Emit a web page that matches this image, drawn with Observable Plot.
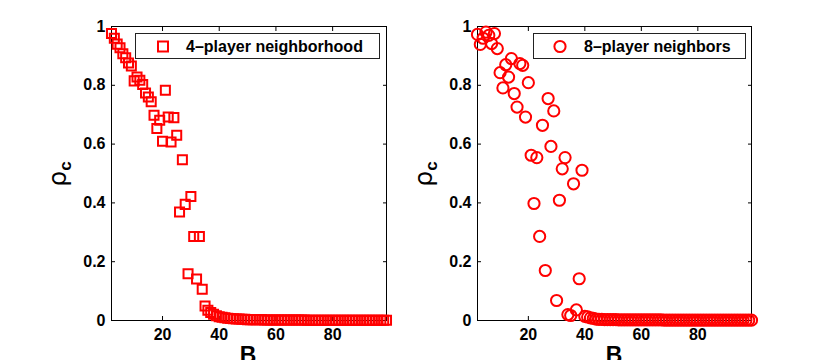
<!DOCTYPE html>
<html><head><meta charset="utf-8">
<script src="https://cdn.jsdelivr.net/npm/d3@7"></script>
<script src="https://cdn.jsdelivr.net/npm/@observablehq/plot@0.6"></script>
<style>
body{margin:0;background:#fff;}
#wrap{position:relative;width:830px;height:360px;overflow:hidden;font-family:"Liberation Sans",Arial,sans-serif;}
.panel{position:absolute;top:0;}
.legend{position:absolute;background:#fff;border:1px solid #222;box-sizing:border-box;font-weight:bold;font-size:16px;height:26px;white-space:nowrap;}
.legend svg{position:absolute;top:0;left:0;}
.legend span{position:absolute;left:50px;top:3px;line-height:20px;color:#000;}
.ylab{position:absolute;transform:translate(-50%,-50%) rotate(-90deg);white-space:nowrap;color:#000;line-height:1;}
.ylab .rho{font-family:"DejaVu Sans","Liberation Sans",sans-serif;font-size:25px;font-weight:normal;}
.ylab sub{font-size:17px;font-weight:bold;vertical-align:-5px;}
.xlab{position:absolute;transform:translateX(-50%);font-weight:bold;font-size:23px;color:#000;line-height:1;}
</style></head><body><div id="wrap"></div>
<script>
// ---- data ----
const B4 = [2,3,4,5,6,7,8,9,10,11,12,13,14,15,16,17,18,19,20,21,22,23,24,25,26,27,28,29,30,31,32,33,34,35,36,37,38,39,40,41,42,43,44,45,46,47,48,49,50,51,52,53,54,55,56,57,58,59,60,61,62,63,64,65,66,67,68,69,70,71,72,73,74,75,76,77,78,79,80,81,82,83,84,85,86,87,88,89,90,91,92,93,94,95,96,97,98,99];
const rho4 = [0.976,0.960,0.940,0.928,0.907,0.894,0.876,0.866,0.815,0.828,0.817,0.803,0.774,0.760,0.744,0.698,0.653,0.681,0.610,0.783,0.692,0.607,0.690,0.630,0.369,0.547,0.395,0.159,0.422,0.286,0.141,0.286,0.106,0.049,
  0.035,0.027,0.021,0.016,0.013,0.011,0.009,0.008,0.007,0.006,0.005,0.005,0.004,0.004,0.003,0.003,0.003,0.003,0.003,0.003,0.002,0.002,0.002,0.002,0.002,0.002,0.002,0.002,0.002,0.002,
  0.002,0.002,0.002,0.002,0.002,0.001,0.001,0.001,0.001,0.001,0.001,0.001,0.001,0.001,0.001,0.001,0.001,0.001,0.001,0.001,0.001,0.001,0.001,0.001,0.001,0.001,0.001,0.001,0.001,0.001,0.001,0.001,0.001,0.001];
const B8 = [2,3,4,5,6,7,8,9,10,11,12,13,14,15,16,17,18,19,20,21,22,23,24,25,26,27,28,29,30,31,32,33,34,35,36,37,38,39,40,41,42,43,44,45,46,47,48,49,50,51,52,53,54,55,56,57,58,59,60,61,62,63,64,65,66,67,68,69,70,71,72,73,74,75,76,77,78,79,80,81,82,83,84,85,86,87,88,89,90,91,92,93,94,95,96,97,98,99];
const rho8 = [0.973,0.939,0.960,0.981,0.970,0.942,0.976,0.925,0.843,0.791,0.870,0.828,0.891,0.772,0.726,0.874,0.868,0.692,0.809,0.562,0.398,0.554,0.286,0.664,0.170,0.755,0.592,0.713,0.068,0.409,0.516,0.554,0.020,0.017,0.465,0.036,0.142,0.511,0.014,
  0.012,0.009,0.007,0.005,0.004,0.004,0.003,0.003,0.003,0.003,0.003,0.002,0.002,0.002,0.002,0.002,0.002,0.002,0.002,0.002,0.002,0.002,0.002,0.002,0.002,
  0.002,0.002,0.001,0.001,0.001,0.001,0.001,0.001,0.001,0.001,0.001,0.001,0.001,0.001,0.001,0.001,0.001,0.001,0.001,0.001,0.001,0.001,0.001,0.001,0.001,0.001,0.001,0.001,0.001,0.001,0.001,0.001,0.001,0.001];
const xTicks = [20,40,60,80];
const xTickLabels = ["20","40","60","80"];
const yTicks = [0,0.2,0.4,0.6,0.8,1];
const yTickLabels = ["0","0.2","0.4","0.6","0.8","1"];
const legendLabels = ["4\u2013player neighborhood","8\u2013player neighbors"];
const xLabel = "B";

// ---- drawing ----
const wrap = document.getElementById("wrap");
function panel(B, rho, symbol, r, left, mL, mR){
  const data = B.map((b,i)=>({B:b, rho:rho[i]}));
  const p = Plot.plot({
    width:415, height:360, marginLeft:mL, marginRight:mR, marginTop:26, marginBottom:40,
    style:{fontFamily:"Liberation Sans, Arial, sans-serif", fontSize:"16px", fontWeight:"bold", color:"#000", background:"transparent", overflow:"visible"},
    x:{domain:[2,99]}, y:{domain:[0,1]},
    marks:[
      Plot.frame({stroke:"#000", strokeWidth:1}),
      Plot.axisX({ticks:xTicks, tickSize:-4, tickPadding:12.5, label:null, tickFormat:(d,i)=>xTickLabels[i]}),
      Plot.axisX({anchor:"top", ticks:xTicks, tickSize:-4, label:null, tickFormat:()=>""}),
      Plot.axisY({ticks:yTicks, tickSize:-4, tickPadding:10, label:null, tickFormat:(d,i)=>yTickLabels[i]}),
      Plot.axisY({anchor:"right", ticks:yTicks, tickSize:-4, label:null, tickFormat:()=>""}),
      Plot.dot(data, {x:"B", y:"rho", symbol, r, stroke:"#ff0000", strokeWidth:2, fill:"none"})
    ]
  });
  p.classList.add("panel");
  p.style.left = left + "px";
  wrap.appendChild(p);
}
panel(B4, rho4, "square", 5.1, 0, 111, 29);
panel(B8, rho8, "circle", 5.6, 415, 62, 79);

function legend(left, width, label, shape){
  const d = document.createElement("div");
  d.className = "legend";
  d.style.left = left + "px"; d.style.top = "33px"; d.style.width = width + "px";
  const m = shape === "square"
    ? '<rect x="22" y="7.5" width="10" height="10" fill="none" stroke="#ff0000" stroke-width="2"/>'
    : '<circle cx="26" cy="12.5" r="5.6" fill="none" stroke="#ff0000" stroke-width="2"/>';
  d.innerHTML = `<svg width="48" height="26">${m}</svg><span>${label}</span>`;
  wrap.appendChild(d);
}
legend(135, 245, legendLabels[0], "square");
legend(533, 213, legendLabels[1], "circle");

function ylab(cx, cy){
  const d = document.createElement("div");
  d.className = "ylab";
  d.style.left = cx + "px"; d.style.top = cy + "px";
  d.innerHTML = '<span class="rho">\u03c1</span><sub>c</sub>';
  wrap.appendChild(d);
}
ylab(59, 174); ylab(425, 174);
function xlab(cx){
  const d = document.createElement("div");
  d.className = "xlab";
  d.style.left = cx + "px"; d.style.top = "344px";
  d.textContent = xLabel;
  wrap.appendChild(d);
}
xlab(248); xlab(614);
</script>
</body></html>
